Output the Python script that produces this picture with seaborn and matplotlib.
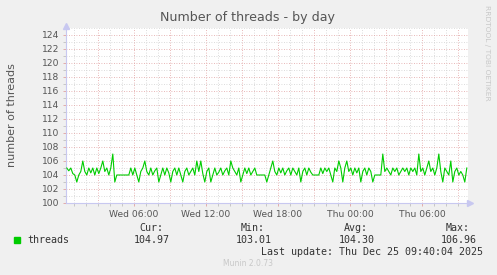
import matplotlib
matplotlib.use("Agg")
import matplotlib.pyplot as plt
import seaborn as sns
import numpy as np
import pandas as pd

# ---- data ----
start_hour = 0.4          # hours after Wed 00:00 of first sample
step_hours = 1.0 / 6.0    # 10-minute samples
threads = [
    105, 104.6, 105, 104.2, 104, 103, 104, 104.5, 106, 104.5,
    104, 105, 104.3, 105, 104, 105, 104.2, 105, 106, 104.5,
    105, 104, 105, 107, 103, 104, 104, 104, 104, 104,
    104, 104, 105, 104, 105, 104, 103, 104.5, 105, 106,
    104.5, 104, 105, 104, 104.6, 105, 103, 104, 105, 104,
    105, 104.3, 103, 104.5, 105, 104, 105, 104, 103, 104.5,
    105, 104, 104.5, 105, 104, 106, 104.5, 106, 104.2, 103,
    104.5, 105, 103, 104, 105, 104, 104.4, 105, 104, 104.6,
    105, 104, 106, 105, 104.5, 104, 105, 103, 104, 105,
    104.2, 105, 104, 104.5, 105, 104, 104, 104, 104, 104,
    103, 104, 105, 106, 104.5, 104, 105, 104.3, 105, 104,
    104.6, 105, 104, 105, 104.5, 104, 105, 103, 104.5, 105,
    104, 105, 104.4, 104, 104, 104, 104, 105, 104.2, 105,
    104.5, 105, 104, 103, 105, 104.5, 106, 105, 103, 105,
    106, 104.5, 105, 104, 105, 104.3, 105, 103, 104.5, 105,
    104, 105, 104.5, 103, 104, 104, 104, 104, 107, 104.5,
    105, 104.5, 104, 105, 104.5, 105, 104, 104.5, 105, 104.5,
    105, 104, 105, 104.5, 105, 104, 107, 104.5, 105, 104,
    105, 106, 104.5, 105, 104, 105, 107, 104.5, 103, 105,
    104.5, 104, 106, 103, 104.5, 105, 104, 104.5, 104, 103,
    105,
]
xtick_hours = [6, 12, 18, 24, 30]
xtick_labels = ["Wed 06:00", "Wed 12:00", "Wed 18:00", "Thu 00:00", "Thu 06:00"]
ytick_values = list(range(100, 125, 2))
series_name = "threads"
stat_names = ["Cur:", "Min:", "Avg:", "Max:"]
stat_values = ["104.97", "103.01", "104.30", "106.96"]
title = "Number of threads - by day"
ylabel = "number of threads"
last_update = "Last update: Thu Dec 25 09:40:04 2025"
footer = "Munin 2.0.73"
side_text = "RRDTOOL / TOBI OETIKER"

hours = [start_hour + i * step_hours for i in range(len(threads))]
df = pd.DataFrame({"hour": hours, "threads": threads})

# ---- figure ----
W, H = 497, 275
fig = plt.figure(figsize=(W / 100, H / 100), dpi=100, facecolor="#F0F0F0")
L, R, T, B = 66, 468, 28, 203
ax = fig.add_axes([L / W, 1 - B / H, (R - L) / W, (B - T) / H])
ax.set_facecolor("white")

sns.lineplot(data=df, x="hour", y="threads", ax=ax, color="#00CC00",
             linewidth=0.8, zorder=3)

x0, x1 = (L - 62) / 12, (R - 62) / 12
ax.set_xlim(x0, x1)
ax.set_ylim(100, 125)

# grid
for h in np.arange(1, 34, 1):
    if h % 3 == 0:
        continue
    ax.axvline(h, color="#D0D0D0", lw=0.6, ls=(0, (1, 2)), zorder=1)
for h in np.arange(3, 34, 3):
    ax.axvline(h, color="#E0A0A0", lw=0.6, ls=(0, (1, 2)), zorder=1.5)
for v in range(101, 126):
    if v % 2 == 1:
        ax.axhline(v, color="#D0D0D0", lw=0.6, ls=(0, (1, 2)), zorder=1)
for v in range(102, 126, 2):
    ax.axhline(v, color="#E0A0A0", lw=0.6, ls=(0, (1, 2)), zorder=1.5)

# spines
for s in ["top", "right"]:
    ax.spines[s].set_visible(False)
for s in ["left", "bottom"]:
    ax.spines[s].set_color("#C8C8F0")
    ax.spines[s].set_linewidth(0.8)
ax.plot([x1 + 0.15], [100], marker=">", color="#C8C8F0", ms=4, clip_on=False, zorder=4)
ax.plot([x0], [125.3], marker="^", color="#C8C8F0", ms=4, clip_on=False, zorder=4)

ax.set_xticks(xtick_hours)
ax.set_xticklabels(xtick_labels)
ax.set_xticks(np.arange(1, 34, 1), minor=True)
ax.set_yticks(ytick_values)
ax.set_yticklabels([str(v) for v in ytick_values])
ax.set_yticks(range(101, 125), minor=True)
ax.tick_params(axis="both", which="major", labelsize=6.6, labelcolor="#555555",
               length=2, width=0.6, color="#E0A0A0", pad=3)
ax.tick_params(axis="both", which="minor", length=2, width=0.6, color="#C0C0C0")
ax.set_xlabel("")
ax.set_ylabel("")

# texts
fig.text(248 / W, 1 - 18 / H, title, ha="center", va="center",
         fontsize=9.1, color="#555555")
fig.text(12 / W, 1 - 115 / H, ylabel, ha="center", va="center", rotation=90,
         fontsize=8, color="#555555")
fig.text(487 / W, 1 - 5 / H, side_text, ha="center", va="top", rotation=270,
         fontsize=5.4, color="#C8C8C8")

mono = "DejaVu Sans Mono"
fs = 7.2
fig.patches.append(plt.Rectangle((14 / W, 1 - 243 / H), 6 / W, 6 / H,
                                 transform=fig.transFigure, color="#00CC00"))
fig.text(27 / W, 1 - 240 / H, series_name, ha="left", va="center",
         family=mono, fontsize=fs, color="#333333")
name_right = [163, 265, 368, 470]
val_right = [170, 272, 375, 477]
for n, v, xn, xv in zip(stat_names, stat_values, name_right, val_right):
    fig.text(xn / W, 1 - 228 / H, n, ha="right", va="center",
             family=mono, fontsize=fs, color="#333333")
    fig.text(xv / W, 1 - 240 / H, v, ha="right", va="center",
             family=mono, fontsize=fs, color="#333333")
fig.text(483 / W, 1 - 252 / H, last_update, ha="right", va="center",
         family=mono, fontsize=fs, color="#333333")
fig.text(248 / W, 1 - 264 / H, footer, ha="center", va="center",
         fontsize=5.5, color="#C8C8C8")

fig.savefig("out.png", dpi=100, facecolor=fig.get_facecolor())
